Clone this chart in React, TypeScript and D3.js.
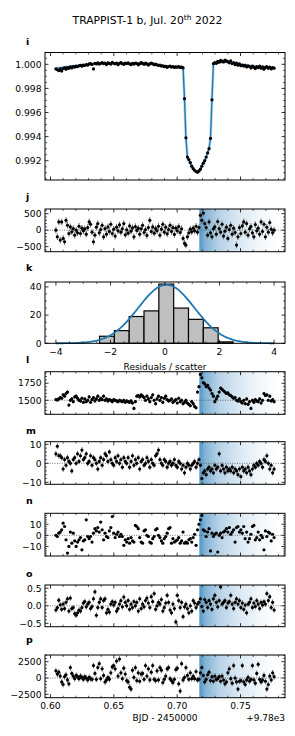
import React from 'react';
import * as d3 from 'd3';

// ---------- data ----------
const N = 152;
const T_START = 0.60427;
const CADENCE = 0.0011407;
const TIMES = d3.range(N).map((i) => T_START + i * CADENCE);

const T_FLARE = 0.7175;
const T_FADE_END = 0.7785;

// panel i: relative flux deviation in ppm
const I_PPM = [
  -380, -450, -520, -400, -560, -350, -300, -420, -280, -330,
  -220, -300, -180, -240, -150, -200, -120, -80, -160, -60,
  -100, -20, -60, 30, 60, -10, -380, 90, 40, 120,
  20, 80, 150, 60, 100, -20, 130, 70, 20, 160,
  90, 40, 110, -30, 80, 150, 50, 0, 100, 60,
  130, 40, -20, 90, 20, 110, 70, -40, 50, 150,
  80, 0, 100, 30, -60, 40, 110, 60, -30, 20,
  -50, -100, -60, -150, -120, -200, -160, -250, -180, -140,
  -230, -190, -260, -210, -240, -200, -260, -230, -300, -2850,
  -6100, -7700, -7900, -8150, -8450, -8650, -8800, -8900, -8950, -8850,
  -8700, -8450, -8200, -8000, -7700, -7350, -7000, -6150, -2950, 50,
  150, 80, 250, 180, 320, 260, 200, 350, 280, 230,
  120, 280, 60, 150, -30, 100, -80, 40, -120, -60,
  -150, -80, -220, -120, -180, -300, -150, -250, -350, -200,
  -280, -150, -320, -220, -400, -260, -180, -330, -240, -380,
  -280, -320,
];
const I_MODEL_PPM = [
  -330, -315, -300, -285, -270, -255, -240, -225, -210, -195,
  -180, -165, -150, -135, -120, -105, -90, -75, -60, -45,
  -30, -20, -10, 0, 10, 20, 25, 30, 35, 40,
  45, 50, 55, 55, 60, 60, 60, 60, 60, 60,
  60, 60, 60, 60, 55, 55, 55, 50, 50, 50,
  50, 45, 45, 45, 40, 40, 40, 35, 35, 30,
  30, 25, 20, 15, 10, 5, 0, -10, -20, -30,
  -45, -60, -75, -90, -105, -120, -135, -150, -160, -170,
  -180, -190, -200, -205, -210, -215, -220, -225, -240, -2900,
  -6150, -7700, -7950, -8200, -8450, -8650, -8800, -8900, -8950, -8880,
  -8700, -8450, -8200, -7980, -7700, -7350, -6950, -6150, -2950, 0,
  60, 100, 130, 150, 165, 175, 180, 180, 175, 165,
  150, 135, 115, 95, 75, 55, 35, 15, -5, -25,
  -45, -65, -85, -105, -120, -135, -150, -165, -180, -195,
  -205, -215, -225, -235, -245, -255, -262, -270, -276, -282,
  -288, -295,
];
const J_RESID = [
  0, -200, 250, -300, 250, -250, -350, 300, 150, -100,
  100, -50, 50, -150, 0, -80, 120, -100, 60, -20,
  40, -120, 80, 250, 180, -60, -350, -150, 90, 200,
  -80, 20, 150, -200, 50, -120, 100, -40, 180, -100,
  30, -180, 90, -20, 160, -60, 40, 200, -140, 10,
  -90, 130, -30, 70, -200, 110, -10, 60, -120, 40,
  150, -70, 20, -160, 80, 300, -40, 100, -90, 50,
  -20, 120, -150, 30, 180, -60, 90, -110, 20, 150,
  -40, 80, -130, 60, -20, 110, -70, 40, -250, -400,
  -450, -200, -80, 30, -50, 60, -20, 120, -60, 80,
  450, 300, 520, 200, 80, -150, 250, -80, -200, 40,
  100, -120, 260, 50, -60, 180, -180, -30, 90, -250,
  20, 150, -120, 60, -70, -450, -200, 80, -100, 130,
  250, -60, 200, -150, 40, 110, -80, -200, 170, -20,
  60, -120, 250, -40, 180, -200, 90, -60, 230, 30,
  -80, 0,
];
const L_VALUES = [
  1510, 1505, 1520, 1540, 1530, 1580, 1560, 1600, 1620, 1430,
  1500, 1520, 1480, 1550, 1560, 1530, 1500, 1490, 1530, 1470,
  1520, 1480, 1500, 1550, 1470, 1510, 1540, 1490, 1520, 1560,
  1500, 1530, 1510, 1560, 1500, 1520, 1490, 1510, 1500, 1480,
  1510, 1500, 1490, 1480, 1500, 1490, 1480, 1500, 1470, 1490,
  1480, 1470, 1490, 1460, 1380, 1480, 1560, 1570, 1550, 1580,
  1560, 1540, 1500, 1560, 1520, 1480, 1540, 1580, 1500, 1450,
  1520, 1560, 1500, 1540, 1470, 1530, 1560, 1510, 1490, 1500,
  1520, 1470, 1490, 1510, 1460, 1530, 1480, 1500, 1450, 1470,
  1500, 1460, 1440, 1420, 1480, 1450, 1410, 1390, 1620, 1700,
  1880, 1830, 1760, 1740, 1700, 1720, 1680, 1650, 1600, 1560,
  1480, 1520, 1560, 1620, 1680, 1660, 1640, 1620, 1600, 1610,
  1580, 1570, 1550, 1530, 1540, 1500, 1490, 1520, 1480, 1460,
  1500, 1450, 1520, 1440, 1480, 1380, 1500, 1470, 1510, 1490,
  1480, 1520, 1460, 1500, 1600, 1570, 1580, 1500, 1560, 1490,
  1510, 1480,
];
const M_VALUES = [
  5, 9, 4, 4, 3, -3, 2, -1, 3, 1,
  0, -4, 2, 3, 0, 5, 1, 4, 7, 2,
  3, 5, 0, 1, 4, -1, 3, 2, 0, -3,
  1, 3, -1, 2, 5, 4, 1, 6, 2, 0,
  -1, 3, 1, 4, 0, 2, -2, 3, 1, 0,
  3, -2, 1, 4, -1, 2, 0, 3, -3, 1,
  2, -1, 0, 3, 1, -2, 2, 0, -1, 4,
  5, 7, 2, 0, -1, 2, 1, -2, 0, 1,
  -1, 0, 2, -1, -2, 1, 0, -3, -1, -5,
  -2, 0, -1, -3, -1, 0, 1, -2, 0, 2,
  -1, -8, -5, -4, -6, -3, -2, -4, -3, -5,
  -1, -3, -2, 5, -4, -1, -3, -5, -2, -4,
  -3, -4, -2, -5, -3, -4, -6, -3, -7, -2,
  -4, -3, -5, -2, -4, -6, -3, -1, -2, 0,
  -1, 1, 0, -2, 2, 1, 4, 0, -3, -1,
  -5, -3,
];
const N_VALUES = [
  0, -1, 2, 3, 5, 11, 8, -4, -16, -10,
  3, -7, 2, -5, -10, -6, -4, -2, -13, -5,
  -4, 14, -1, -3, -1, -6, 2, 6, 4, 7,
  3, 12, 5, -4, 2, -1, -2, 4, 7, 17,
  2, -2, 1, 3, -1, 1, -1, -9, -4, -6,
  -3, -7, -2, -5, -6, 9, 8, 6, -2, -6,
  -7, 4, 5, 0, -1, -6, -7, -3, -1, 5,
  6, 0, -2, -5, -7, -3, -1, 2, 6, 7,
  -7, -3, -6, -5, -4, -2, -7, -5, 3, -7,
  -6, -7, -4, -3, -6, -2, 1, -9, 5, 10,
  14, 18, 5, 4, -1, 3, 6, -14, 2, -1,
  1, 2, -15, 0, 2, -2, 3, 4, 6, 3,
  7, 1, 3, 5, -6, 7, 8, 3, 5, 2,
  8, -3, 3, -6, -3, 1, 8, 9, -4, -2,
  3, -4, 0, -2, -13, 4, -1, 3, 2, -5,
  1, -2,
];
// panel o in hundredths
const O_HUNDREDTHS = [
  -12, -5, 16, 3, -10, 5, -8, 10, 20, -15,
  22, -8, -5, -22, -27, -20, -12, -15, -5, 8,
  12, -3, 5, 10, -8, -2, 20, 40, -27, -5,
  10, 20, -5, 15, 20, -20, -10, -18, 5, 12,
  2, 10, -15, -8, 5, 15, -3, 25, 10, 0,
  15, -10, 5, -5, 12, 0, 10, -15, 20, -8,
  5, -3, 15, 22, 8, -5, 26, 12, 35, -10,
  0, 10, 5, 18, -15, -5, 8, 30, 10, -12,
  -20, 5, -8, -46, 30, 15, -5, 10, -31, -3,
  5, -8, -20, 0, -15, 15, 8, -5, 5, 10,
  20, -2, -15, 18, 10, -5, 15, 5, -10, 20,
  30, 10, -3, 15, 54, 5, 10, 15, -5, 8,
  12, 30, 5, -8, 10, 20, 5, 15, -5, 8,
  -10, 2, -20, 5, 10, 20, -5, 8, -2, 15,
  5, -8, 10, 2, 12, 5, 35, 15, 26, -5,
  10, -12,
];
const P_VALUES = [
  1100, 600, 900, 300, -600, -1000, 200, 500, -300, -900,
  1600, 700, 300, -100, 400, 200, -100, 300, 100, -200,
  200, 0, -300, 100, -100, -200, 1900, 700, -200, 1600,
  2200, -100, 1400, 400, -600, -300, 100, -200, 800, 1700,
  1900, 1400, 2600, 300, 2900, 800, -100, 1500, 600, -400,
  -600, -1400, -1700, 1200, 100, 1600, -400, 800, -500, 600,
  700, -200, 1900, 300, 1400, -300, 900, 1900, -200, -400,
  1100, -300, 1600, 1200, -700, -200, 300, 1400, 1600, -100,
  -400, -700, -200, 1300, 1500, -900, -2000, 2200, -300, 100,
  1600, 400, -200, 800, -100, 300, -100, 1000, -300, -200,
  800, 1600, 400, -600, -200, 500, 900, -400, 200, -500,
  300, -200, -100, 200, -500, 300, -300, -900, -600, 800,
  1400, -100, -800, 1900, 0, -600, -1700, -500, -400, 1900,
  -600, -1000, -300, 100, -500, -200, 1900, -300, -800, 700,
  2100, -200, -600, -300, 400, -500, -1700, -1000, 300, -300,
  800, 200,
];

const HIST_COUNTS = [5, 9, 19, 23, 42, 25, 17, 11, 1];
const HIST_START = -2.4;
const HIST_BIN = 0.5436;
const GAUSS_AMP = 41.5;
const GAUSS_MU = 0.05;
const GAUSS_SIGMA = 1.03;

const X_TICKS = [0.6, 0.65, 0.7, 0.75];
const X_TICK_LABELS = ['0.60', '0.65', '0.70', '0.75'];

// ---------- layout ----------
const LEFT = 45;
const RIGHT = 285;
const X_DOMAIN: [number, number] = [0.59566, 0.78513];
const FONT = 'DejaVu Sans';
const TICK_FS = 9.2;
const BLUE = '#1f77b4';
const DOT_R = 1.6;

type Spec = {
  id: string;
  top: number;
  bottom: number;
  domain: [number, number];
  major: number[];
  minorStep: number;
  fmt: (v: number) => string;
  labelBase: number;
};

const minus = (s: string) => s.replace('-', '\u2212');

function minorValues(domain: [number, number], step: number, major: number[]) {
  const out: number[] = [];
  const k0 = Math.ceil(domain[0] / step - 1e-9);
  const k1 = Math.floor(domain[1] / step + 1e-9);
  for (let k = k0; k <= k1; k++) {
    const v = k * step;
    if (!major.some((m) => Math.abs(m - v) < step * 1e-3)) out.push(v);
  }
  return out;
}

function Frame({ spec, y, x, showX, xMajor, xMinorStep, xLabels }: any) {
  const { top, bottom } = spec;
  const majLen = 3.5;
  const minLen = 2;
  const yMinor = minorValues(spec.domain, spec.minorStep, spec.major);
  const xDom = x.domain();
  const xMinor = minorValues(xDom, xMinorStep, xMajor);
  const sw = 0.8;
  return (
    <g>
      {spec.major.map((v: number) => (
        <g key={'ym' + v}>
          <line x1={LEFT} x2={LEFT + majLen} y1={y(v)} y2={y(v)} stroke="#000" strokeWidth={sw} />
          <line x1={RIGHT} x2={RIGHT - majLen} y1={y(v)} y2={y(v)} stroke="#000" strokeWidth={sw} />
          <text x={LEFT - 3.5} y={y(v)} dy="0.35em" textAnchor="end" fontSize={TICK_FS}>
            {spec.fmt(v)}
          </text>
        </g>
      ))}
      {yMinor.map((v) => (
        <g key={'yn' + v}>
          <line x1={LEFT} x2={LEFT + minLen} y1={y(v)} y2={y(v)} stroke="#000" strokeWidth={0.6} />
          <line x1={RIGHT} x2={RIGHT - minLen} y1={y(v)} y2={y(v)} stroke="#000" strokeWidth={0.6} />
        </g>
      ))}
      {xMajor.map((v: number, i: number) => (
        <g key={'xm' + v}>
          <line x1={x(v)} x2={x(v)} y1={bottom} y2={bottom - majLen} stroke="#000" strokeWidth={sw} />
          <line x1={x(v)} x2={x(v)} y1={top} y2={top + majLen} stroke="#000" strokeWidth={sw} />
          {showX && (
            <text x={x(v)} y={bottom + 11.6} textAnchor="middle" fontSize={TICK_FS}>
              {xLabels[i]}
            </text>
          )}
        </g>
      ))}
      {xMinor.map((v) => (
        <g key={'xn' + v}>
          <line x1={x(v)} x2={x(v)} y1={bottom} y2={bottom - minLen} stroke="#000" strokeWidth={0.6} />
          <line x1={x(v)} x2={x(v)} y1={top} y2={top + minLen} stroke="#000" strokeWidth={0.6} />
        </g>
      ))}
      <rect x={LEFT} y={top} width={RIGHT - LEFT} height={bottom - top} fill="none" stroke="#000" strokeWidth={1} />
      <text x={26} y={spec.labelBase} fontSize={9.5} fontWeight="bold">
        {spec.id}
      </text>
    </g>
  );
}

function SeriesPanel({ spec, values, err, x, shade, refLine, showX, model }: any) {
  const y = d3.scaleLinear().domain(spec.domain).range([spec.bottom, spec.top]);
  const clipId = 'clip-' + spec.id;
  const line = model
    ? d3
        .line<number>()
        .x((_, i) => x(TIMES[i]))
        .y((d) => y(d))(model)
    : null;
  return (
    <g>
      <defs>
        <clipPath id={clipId}>
          <rect x={LEFT} y={spec.top} width={RIGHT - LEFT} height={spec.bottom - spec.top} />
        </clipPath>
      </defs>
      <g clipPath={`url(#${clipId})`}>
        {shade && (
          <rect
            x={x(T_FLARE)}
            y={spec.top}
            width={x(T_FADE_END) - x(T_FLARE)}
            height={spec.bottom - spec.top}
            fill="url(#flareGrad)"
          />
        )}
        {refLine !== undefined && (
          <line x1={LEFT} x2={RIGHT} y1={y(refLine)} y2={y(refLine)} stroke="#444" strokeWidth={0.7} strokeDasharray="1,1.4" />
        )}
        {line && <path d={line} fill="none" stroke={BLUE} strokeOpacity={0.25} strokeWidth={3} />}
        {line && <path d={line} fill="none" stroke={BLUE} strokeWidth={1.4} />}
        {err > 0 &&
          values.map((v: number, i: number) => (
            <line key={'e' + i} x1={x(TIMES[i])} x2={x(TIMES[i])} y1={y(v - err)} y2={y(v + err)} stroke="#6e6e6e" strokeWidth={1} />
          ))}
        {values.map((v: number, i: number) => (
          <circle key={'c' + i} cx={x(TIMES[i])} cy={y(v)} r={DOT_R} fill="#000" />
        ))}
      </g>
      <Frame spec={spec} y={y} x={x} showX={showX} xMajor={X_TICKS} xMinorStep={0.01} xLabels={X_TICK_LABELS} />
    </g>
  );
}

function HistPanel({ spec }: any) {
  const x = d3.scaleLinear().domain([-4.4, 4.4]).range([LEFT, RIGHT]);
  const y = d3.scaleLinear().domain(spec.domain).range([spec.bottom, spec.top]);
  const gx = d3.range(-4, 4.0001, 0.05);
  const gauss = d3
    .line<number>()
    .x((d) => x(d))
    .y((d) => y(GAUSS_AMP * Math.exp(-((d - GAUSS_MU) ** 2) / (2 * GAUSS_SIGMA ** 2))))(gx);
  return (
    <g>
      {HIST_COUNTS.map((c, i) => {
        const x0 = x(HIST_START + i * HIST_BIN);
        const x1 = x(HIST_START + (i + 1) * HIST_BIN);
        return <rect key={i} x={x0} y={y(c)} width={x1 - x0} height={y(0) - y(c)} fill="#bfbfbf" stroke="#000" strokeWidth={1.2} />;
      })}
      <path d={gauss!} fill="none" stroke={BLUE} strokeWidth={1.8} />
      <Frame spec={spec} y={y} x={x} showX={true} xMajor={[-4, -2, 0, 2, 4]} xMinorStep={0.5} xLabels={['\u22124', '\u22122', '0', '2', '4']} />
      <text x={(LEFT + RIGHT) / 2} y={369.5} textAnchor="middle" fontSize={9}>
        Residuals / scatter
      </text>
    </g>
  );
}

const fInt = (v: number) => minus(d3.format('d')(v));

const SPEC_I: Spec = { id: 'i', top: 52.5, bottom: 180, domain: [0.9904, 1.00098], major: [0.992, 0.994, 0.996, 0.998, 1.0], minorStep: 0.0005, fmt: (v) => d3.format('.3f')(v), labelBase: 45 };
const SPEC_J: Spec = { id: 'j', top: 209, bottom: 251.7, domain: [-652, 642], major: [-500, 0, 500], minorStep: 100, fmt: fInt, labelBase: 200 };
const SPEC_K: Spec = { id: 'k', top: 282, bottom: 343.3, domain: [0, 43.5], major: [0, 20, 40], minorStep: 5, fmt: fInt, labelBase: 271 };
const SPEC_L: Spec = { id: 'l', top: 371.7, bottom: 414.3, domain: [1294, 1920], major: [1500, 1750], minorStep: 50, fmt: fInt, labelBase: 363 };
const SPEC_M: Spec = { id: 'm', top: 441.7, bottom: 484.3, domain: [-11.05, 11.4], major: [-10, 0, 10], minorStep: 2, fmt: fInt, labelBase: 434 };
const SPEC_N: Spec = { id: 'n', top: 513.3, bottom: 556, domain: [-18.6, 19.9], major: [-10, 0, 10], minorStep: 2, fmt: fInt, labelBase: 504 };
const SPEC_O: Spec = { id: 'o', top: 585, bottom: 626.7, domain: [-0.597, 0.594], major: [-0.5, 0, 0.5], minorStep: 0.1, fmt: (v) => minus(d3.format('.1f')(v)), labelBase: 576.5 };
const SPEC_P: Spec = { id: 'p', top: 655, bottom: 697.7, domain: [-3021, 3528], major: [-2500, 0, 2500], minorStep: 500, fmt: fInt, labelBase: 643 };

export default function App() {
  const x = d3.scaleLinear().domain(X_DOMAIN).range([LEFT, RIGHT]);
  const iVals = I_PPM.map((v) => 1 + v * 1e-6);
  const iModel = I_MODEL_PPM.map((v) => 1 + v * 1e-6);
  const oVals = O_HUNDREDTHS.map((v) => v / 100);
  return (
    <svg width={295} height={736} style={{ position: 'absolute', left: 0, top: 0, background: '#fff' }} fontFamily={FONT}>
      <defs>
        <linearGradient id="flareGrad" x1="0" x2="1" y1="0" y2="0">
          <stop offset="0" stopColor={BLUE} stopOpacity={0.78} />
          <stop offset="0.08" stopColor={BLUE} stopOpacity={0.55} />
          <stop offset="0.25" stopColor={BLUE} stopOpacity={0.33} />
          <stop offset="0.5" stopColor={BLUE} stopOpacity={0.17} />
          <stop offset="0.75" stopColor={BLUE} stopOpacity={0.07} />
          <stop offset="1" stopColor={BLUE} stopOpacity={0} />
        </linearGradient>
      </defs>
      <rect x={0} y={0} width={295} height={736} fill="#fff" />
      <text x={147.5} y={24} textAnchor="middle" fontSize={10.8}>
        TRAPPIST-1 b, Jul. 20
        <tspan dy={-4} fontSize={7.5}>th</tspan>
        <tspan dy={4}> 2022</tspan>
      </text>
      <SeriesPanel spec={SPEC_I} values={iVals} err={0.00008} x={x} model={iModel} />
      <SeriesPanel spec={SPEC_J} values={J_RESID} err={100} x={x} shade refLine={0} />
      <HistPanel spec={SPEC_K} />
      <SeriesPanel spec={SPEC_L} values={L_VALUES} err={25} x={x} shade refLine={1500} />
      <SeriesPanel spec={SPEC_M} values={M_VALUES} err={1.5} x={x} shade refLine={0} />
      <SeriesPanel spec={SPEC_N} values={N_VALUES} err={0} x={x} shade refLine={0} />
      <SeriesPanel spec={SPEC_O} values={oVals} err={0.08} x={x} shade refLine={0} />
      <SeriesPanel spec={SPEC_P} values={P_VALUES} err={450} x={x} shade refLine={0} showX />
      <text x={(LEFT + RIGHT) / 2} y={721} textAnchor="middle" fontSize={9}>
        BJD - 2450000
      </text>
      <text x={RIGHT} y={721} textAnchor="end" fontSize={9}>
        +9.78e3
      </text>
    </svg>
  );
}
